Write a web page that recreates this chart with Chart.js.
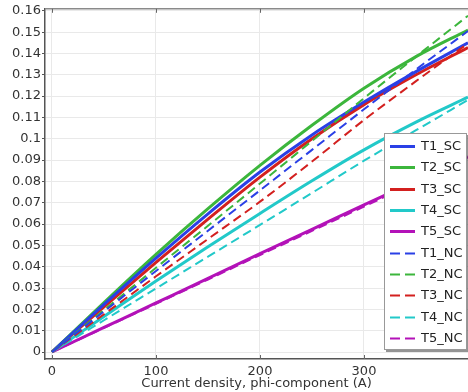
<!DOCTYPE html>
<html>
<head>
<meta charset="utf-8">
<script src="https://cdn.jsdelivr.net/npm/chart.js@4"></script>
<style>
  html, body { margin: 0; padding: 0; background: #fff; }
  #wrap { width: 468px; height: 392px; }
</style>
</head>
<body>
<div id="wrap"><canvas id="c" width="468" height="392"></canvas></div>
<script>
// Current density samples (A)
const currents = [0, 50, 100, 150, 200, 250, 300, 350, 400];

// SC series
const t1SC = [0, 0.0223, 0.0440, 0.0648, 0.0844, 0.1018, 0.1172, 0.1315, 0.1450];
const t2SC = [0, 0.0232, 0.0458, 0.0672, 0.0875, 0.1063, 0.1237, 0.1385, 0.1510];
const t3SC = [0, 0.0212, 0.0420, 0.0623, 0.0820, 0.1000, 0.1160, 0.1300, 0.1428];
const t4SC = [0, 0.0167, 0.0333, 0.0494, 0.0650, 0.0803, 0.0948, 0.1078, 0.1195];
const t5SC = [0, 0.0115, 0.0230, 0.0345, 0.0461, 0.0575, 0.0690, 0.0803, 0.0915];

// NC series
const t1NC = [0, 0.0190, 0.0380, 0.0569, 0.0758, 0.0948, 0.1138, 0.1325, 0.1505];
const t2NC = [0, 0.0197, 0.0395, 0.0592, 0.0790, 0.0990, 0.1190, 0.1385, 0.1577];
const t3NC = [0, 0.0177, 0.0355, 0.0530, 0.0705, 0.0893, 0.1088, 0.1270, 0.1447];
const t4NC = [0, 0.0149, 0.0298, 0.0447, 0.0596, 0.0746, 0.0897, 0.1040, 0.1182];
const t5NC = [0, 0.0113, 0.0226, 0.0340, 0.0455, 0.0568, 0.0682, 0.0796, 0.0910];

const seriesNames = ['T1_SC', 'T2_SC', 'T3_SC', 'T4_SC', 'T5_SC',
                     'T1_NC', 'T2_NC', 'T3_NC', 'T4_NC', 'T5_NC'];
const seriesValues = [t1SC, t2SC, t3SC, t4SC, t5SC, t1NC, t2NC, t3NC, t4NC, t5NC];

// Axis ticks
const xTickValues = [0, 100, 200, 300];
const yTickValues = [0, 0.01, 0.02, 0.03, 0.04, 0.05, 0.06, 0.07, 0.08,
                     0.09, 0.1, 0.11, 0.12, 0.13, 0.14, 0.15, 0.16];

const palette = ['#2a40e6', '#3cb63c', '#d3201f', '#22c9c9', '#b312b8'];
const FONT = 'DejaVu Sans';

const datasets = seriesValues.map((vals, i) => {
  const dashed = i >= 5;
  return {
    label: seriesNames[i],
    data: currents.map((x, k) => ({ x: x, y: vals[k] })),
    borderColor: palette[i % 5],
    backgroundColor: palette[i % 5],
    borderWidth: dashed ? 2 : 3,
    borderDash: dashed ? [9, 5] : [],
    pointRadius: 0,
    fill: false,
    cubicInterpolationMode: 'monotone',
    order: dashed ? 0 : 1
  };
});

// Frame, inward tick marks and boxed legend
const decorations = {
  id: 'decorations',
  afterDraw(chart) {
    const ctx = chart.ctx;
    const area = chart.chartArea;
    const xs = chart.scales.x;
    ctx.save();
    // top frame line
    ctx.strokeStyle = '#8a8a8a';
    ctx.lineWidth = 1.5;
    ctx.beginPath();
    ctx.moveTo(area.left, area.top);
    ctx.lineTo(area.right, area.top);
    ctx.stroke();
    // inward tick marks on top and bottom
    ctx.strokeStyle = '#666';
    ctx.lineWidth = 1;
    xTickValues.forEach(v => {
      const px = Math.round(xs.getPixelForValue(v)) + 0.5;
      ctx.beginPath();
      ctx.moveTo(px, area.bottom);
      ctx.lineTo(px, area.bottom - 4);
      ctx.moveTo(px, area.top);
      ctx.lineTo(px, area.top + 4);
      ctx.stroke();
    });

    // legend box
    const bx = 384, by = 133, bw = 83, bh = 217;
    ctx.fillStyle = 'rgba(60,60,60,0.55)';
    ctx.fillRect(bx + 2, by + 2, bw, bh);
    ctx.fillStyle = '#fff';
    ctx.fillRect(bx, by, bw, bh);
    ctx.strokeStyle = '#999';
    ctx.lineWidth = 1;
    ctx.strokeRect(bx + 0.5, by + 0.5, bw - 1, bh - 1);

    ctx.font = '13px "' + FONT + '"';
    ctx.textBaseline = 'middle';
    ctx.textAlign = 'left';
    chart.data.datasets.forEach((ds, i) => {
      const y = Math.round(by + 13 + i * 21.33) + 0.5;
      ctx.strokeStyle = ds.borderColor;
      ctx.lineWidth = ds.borderWidth;
      ctx.setLineDash(ds.borderDash.length ? [10, 5] : []);
      ctx.beginPath();
      ctx.moveTo(bx + 6, y);
      ctx.lineTo(bx + 31, y);
      ctx.stroke();
      ctx.setLineDash([]);
      ctx.fillStyle = '#222';
      ctx.fillText(ds.label, bx + 37, y + 0.5);
    });
    ctx.restore();
  }
};

new Chart(document.getElementById('c'), {
  type: 'line',
  data: { datasets: datasets },
  options: {
    responsive: false,
    animation: false,
    devicePixelRatio: 1,
    layout: { padding: { top: 8, right: 0, left: 0, bottom: 0 } },
    plugins: {
      legend: { display: false },
      tooltip: { enabled: false }
    },
    scales: {
      x: {
        type: 'linear',
        min: -6.73,
        max: 400,
        afterBuildTicks: s => { s.ticks = xTickValues.map(v => ({ value: v })); },
        afterFit: s => { s.height = 33; },
        grid: { color: '#e9e9e9', lineWidth: 1, drawTicks: false },
        border: { color: '#555', width: 1.5 },
        ticks: {
          font: { family: FONT, size: 13 },
          color: '#333',
          padding: 5,
          maxRotation: 0,
          autoSkip: false
        },
        title: {
          display: true,
          text: 'Current density, phi-component (A)',
          font: { family: FONT, size: 13 },
          color: '#333',
          padding: { top: 0, bottom: 1 }
        }
      },
      y: {
        type: 'linear',
        min: -0.00328,
        max: 0.16094,
        afterBuildTicks: s => { s.ticks = yTickValues.map(v => ({ value: v })); },
        afterFit: s => { s.width = 45; },
        grid: { color: '#e9e9e9', lineWidth: 1, tickLength: 3, tickColor: '#555' },
        border: { color: '#555', width: 1.5 },
        ticks: {
          font: { family: FONT, size: 13 },
          color: '#333',
          padding: 1,
          autoSkip: false,
          callback: v => String(Number(v.toFixed(2)))
        }
      }
    }
  },
  plugins: [decorations]
});
</script>
</body>
</html>
